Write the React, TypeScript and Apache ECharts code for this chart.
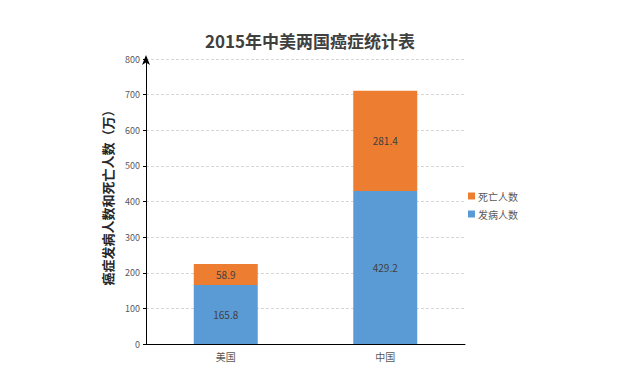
import React, { useEffect, useRef } from "react";
import * as echarts from "echarts";

const categories = ["美国", "中国"];
const incidence = [165.8, 429.2];
const deaths = [58.9, 281.4];
const seriesNames = ["发病人数", "死亡人数"];

export default function App() {
  const ref = useRef<HTMLDivElement>(null);
  useEffect(() => {
    const chart = echarts.init(ref.current!, null, { renderer: "svg" });
    const font = "'Microsoft YaHei', 'Noto Sans CJK SC', sans-serif";
    chart.setOption({
      animation: false,
      backgroundColor: "#ffffff",
      title: {
        text: "2015年中美两国癌症统计表",
        left: 305,
        textAlign: "center",
        top: 27,
        textStyle: { fontSize: 17, fontWeight: "bold", color: "#404040", fontFamily: font },
      },
      legend: {
        orient: "vertical",
        left: 463,
        top: 186,
        icon: "rect",
        itemWidth: 7,
        itemHeight: 7,
        itemGap: 8,
        data: [seriesNames[1], seriesNames[0]],
        textStyle: { fontSize: 10, color: "#595959", fontFamily: font, padding: [0, 0, 0, -2] },
      },
      grid: { left: 146, right: 167, top: 59, bottom: 38 },
      xAxis: {
        type: "category",
        data: categories,
        axisLine: { lineStyle: { color: "#000", width: 1 } },
        axisTick: { show: false },
        axisLabel: { fontSize: 10, color: "#595959", margin: 7, fontFamily: font },
      },
      yAxis: {
        type: "value",
        min: 0,
        max: 800,
        interval: 100,
        name: "癌症发病人数和死亡人数（万）",
        nameLocation: "middle",
        nameGap: 27,
        nameRotate: 90,
        nameTextStyle: {
          fontSize: 13,
          fontWeight: "bold",
          color: "#262626",
          fontFamily: font,
          padding: [0, 0, 0, 14],
        },
        axisLine: {
          show: true,
          lineStyle: { color: "#000", width: 1 },
          symbol: ["none", "arrow"],
          symbolSize: [6, 10],
          symbolOffset: [0, 4],
        },
        axisTick: { show: true, length: 3, lineStyle: { color: "#000" } },
        axisLabel: { fontSize: 9, color: "#595959", margin: 6, fontFamily: font },
        splitLine: { lineStyle: { color: "#d6d6d6", type: [3, 2] } },
      },
      series: [
        {
          name: seriesNames[0],
          type: "bar",
          stack: "total",
          data: incidence,
          barWidth: 64,
          itemStyle: { color: "#5B9BD5" },
          label: { show: true, position: "inside", color: "#404040", fontSize: 10, fontFamily: font },
        },
        {
          name: seriesNames[1],
          type: "bar",
          stack: "total",
          data: deaths,
          barWidth: 64,
          itemStyle: { color: "#ED7D31" },
          label: { show: true, position: "inside", color: "#404040", fontSize: 10, fontFamily: font },
        },
      ],
    });
    return () => chart.dispose();
  }, []);
  return <div ref={ref} style={{ width: 632, height: 382, position: "fixed", left: 0, top: 0 }} />;
}
